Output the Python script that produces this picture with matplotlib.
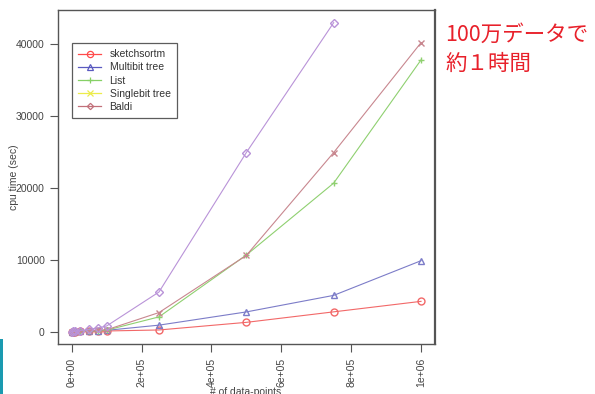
import numpy as np
import matplotlib
matplotlib.use("Agg")
from matplotlib import pyplot as plt
from matplotlib.lines import Line2D
from matplotlib.patches import Rectangle

# data
n_points = [1000, 5000, 10000, 25000, 50000, 75000, 100000, 250000, 500000, 750000, 1000000]
sketchsortm = [2, 8, 15, 30, 50, 70, 90, 230, 1290, 2750, 4210]
multibit_tree = [3, 12, 25, 50, 90, 130, 180, 900, 2740, 5040, 9860]
list_method = [1, 5, 10, 40, 100, 150, 200, 2050, 10650, 20650, 37780]
singlebit_tree = [1, 5, 10, 40, 110, 180, 250, 2650, 10600, 24900, 40180]
baldi = [5, 25, 50, 150, 320, 520, 780, 5510, 24900, 42960, np.nan]

names = ["sketchsortm", "Multibit tree", "List", "Singlebit tree", "Baldi"]
series = [sketchsortm, multibit_tree, list_method, singlebit_tree, baldi]
markers = ["o", "^", "+", "x", "D"]
line_colors = ["#f26868", "#7c7cc8", "#8fd070", "#c8878f", "#b993d8"]
legend_colors = ["#ff4a4a", "#5a5ac0", "#86d066", "#ecec4a", "#c2707a"]

xticks = [0, 200000, 400000, 600000, 800000, 1000000]
xtick_labels = ["0e+00", "2e+05", "4e+05", "6e+05", "8e+05", "1e+06"]
yticks = [0, 10000, 20000, 30000, 40000]

plt.rcParams["font.family"] = ["Liberation Sans", "DejaVu Sans"]

fig = plt.figure(figsize=(5.95, 3.94), dpi=100)
ax = fig.add_axes([58 / 595, 1 - 344 / 394, (435 - 58) / 595, (344 - 10) / 394])

for y, m, c in zip(series, markers, line_colors):
    ms = 3.8 if m == "D" else 5
    ax.plot(n_points, y, color=c, lw=0.8, marker=m, ms=ms, mfc="none", mec=c, mew=1)

ax.set_xlim(-39000, 1040000)
ax.set_ylim(-1720, 44720)
ax.set_xticks(xticks)
ax.set_xticklabels(xtick_labels, rotation=90)
ax.set_yticks(yticks)
ax.tick_params(direction="out", length=5.5, width=0.8, color="#555555",
               labelsize=7.5, labelcolor="#444444", pad=4)
ax.tick_params(axis="x", pad=4.5)
for s in ax.spines.values():
    s.set_color("#555555")
    s.set_linewidth(1)
ax.spines["right"].set_linewidth(1.6)

ax.set_ylabel("cpu time (sec)", fontsize=7.5, color="#444444")
ax.yaxis.set_label_coords(-39 / 377, 0.5)
fig.text(246 / 595, 1 - 392 / 394, "# of data-points", fontsize=7.5,
         color="#444444", ha="center", va="center")

handles = []
for m, c in zip(markers, legend_colors):
    ms = 3.2 if m == "D" else 4.5
    handles.append(Line2D([0], [0], color=c, lw=0.9, marker=m, ms=ms,
                          mfc="none", mec=c, mew=0.9))
leg = ax.legend(handles, names, loc="upper left", bbox_to_anchor=(14 / 377, 1 - 33 / 334),
                borderaxespad=0, fontsize=7.5, frameon=True, fancybox=False,
                handlelength=2.2, handletextpad=0.8, labelspacing=0.3, borderpad=0.6)
leg.get_frame().set_edgecolor("#333333")
leg.get_frame().set_linewidth(0.9)
for t in leg.get_texts():
    t.set_color("#333333")

fig.text(445 / 595, 1 - 35 / 394, "100万データで", fontsize=15.5, color="#e8202a",
         family=["Noto Sans CJK JP", "DejaVu Sans"], va="center", ha="left")
fig.text(445 / 595, 1 - 64 / 394, "約１時間", fontsize=15.5, color="#e8202a",
         family=["Noto Sans CJK JP", "DejaVu Sans"], va="center", ha="left")

fig.add_artist(Rectangle((0, 0), 3 / 595, (394 - 339) / 394, transform=fig.transFigure,
                         color="#1a9ab0", lw=0))

fig.savefig("out.png", dpi=100)
